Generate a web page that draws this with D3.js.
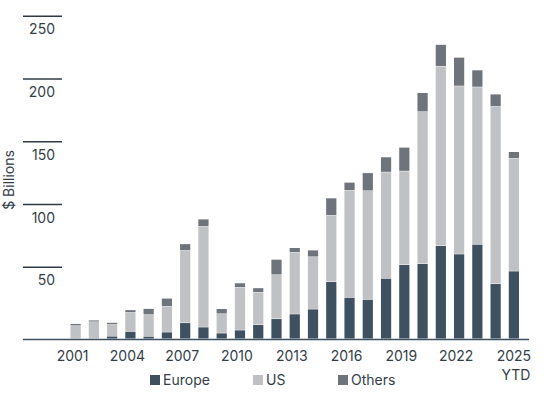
<!DOCTYPE html>
<html><head><meta charset="utf-8">
<script src="https://cdn.jsdelivr.net/npm/d3@7"></script>
<style>body{margin:0;background:#fff}text{font-family:Inter,"Open Sans",sans-serif;fill:#333e48}</style>
</head><body><div id="chart"></div>
<script>
const years = ["2001","2002","2003","2004","2005","2006","2007","2008","2009","2010","2011","2012","2013",
  "2014","2015","2016","2017","2018","2019","2020","2021","2022","2023","2024","2025"];
const europe = [0,0,2,5.8,1.9,5.3,12.7,9.3,4.5,6.9,11.2,15.9,19.7,23.6,45.4,32.9,31.3,48.1,59,59.8,74.1,67.5,75.2,43.8,53.9];
const us = [10.4,13.5,9.3,15.1,17.3,20.5,57.6,80.2,15.4,34,25.8,35.1,49.1,41.7,52.9,85.3,86.6,84.7,74.6,121.1,143,133.9,125.4,141.3,89.8];
const others = [1.6,1.3,1.6,2.1,4.8,6.4,5.3,5.8,4,3.5,3.5,12.2,3.7,5.3,13.8,6.4,14.3,12,18.9,15.1,17.3,22.8,13.5,9.8,5.3];
const yTicks = [50,100,150,200,250];
const labelYears = ["2001","2004","2007","2010","2013","2016","2019","2022","2025"];
const series = ["Europe","US","Others"];
const colors = ["#3f5160","#c0c1c5","#6e737c"];

const width = 548, height = 401;
const svg = d3.select("#chart").append("svg").attr("width", width).attr("height", height);

const rows = years.map((y, i) => ({year: y, Europe: europe[i], US: us[i], Others: others[i]}));
const stack = d3.stack().keys(series)(rows);

const x = d3.scaleBand().domain(years).range([70.5, 519]).paddingInner(0.44).paddingOuter(0.0);
const y = d3.scaleLinear().domain([0, 250]).range([339, 339 - 250 * 1.255]);
const color = d3.scaleOrdinal().domain(series).range(colors);

// gridline marks with labels underneath
const tick = svg.append("g").selectAll("g").data(yTicks).join("g")
  .attr("transform", d => `translate(0,${y(d) - 9})`);
tick.append("line").attr("x1", 23).attr("x2", 62).attr("stroke", "#2f3a44").attr("stroke-width", 1.5);
tick.append("text").attr("x", 55).attr("y", 18).attr("text-anchor", "end").attr("font-size", 14).text(d => d);

svg.append("text").attr("transform", "translate(14,180) rotate(-90)").attr("text-anchor", "middle")
  .attr("font-size", 14).text("$ Billions");

svg.append("g").selectAll("g").data(stack).join("g")
  .attr("fill", d => color(d.key))
  .selectAll("rect").data(d => d).join("rect")
  .attr("x", d => x(d.data.year))
  .attr("width", x.bandwidth())
  .attr("y", d => y(d[1]))
  .attr("height", d => Math.max(0, y(d[0]) - y(d[1]) - 0.5));

svg.append("line").attr("x1", 23).attr("x2", 529).attr("y1", 339.5).attr("y2", 339.5)
  .attr("stroke", "#3f5160").attr("stroke-width", 1.5);

svg.append("g").selectAll("text").data(labelYears).join("text")
  .attr("x", d => x(d) + x.bandwidth() / 2 - (d === "2025" ? 0 : 3))
  .attr("y", 361).attr("text-anchor", "middle").attr("font-size", 14).text(d => d);
svg.append("text").attr("x", x("2025") + x.bandwidth() / 2 + 2).attr("y", 380)
  .attr("text-anchor", "middle").attr("font-size", 14).text("YTD");

const legX = [150, 253, 338];
const leg = svg.append("g").selectAll("g").data(series).join("g")
  .attr("transform", (d, i) => `translate(${legX[i]},375)`);
leg.append("rect").attr("width", 10).attr("height", 10).attr("fill", d => color(d));
leg.append("text").attr("x", 13).attr("y", 10).attr("font-size", 14).text(d => d);
</script></body></html>
